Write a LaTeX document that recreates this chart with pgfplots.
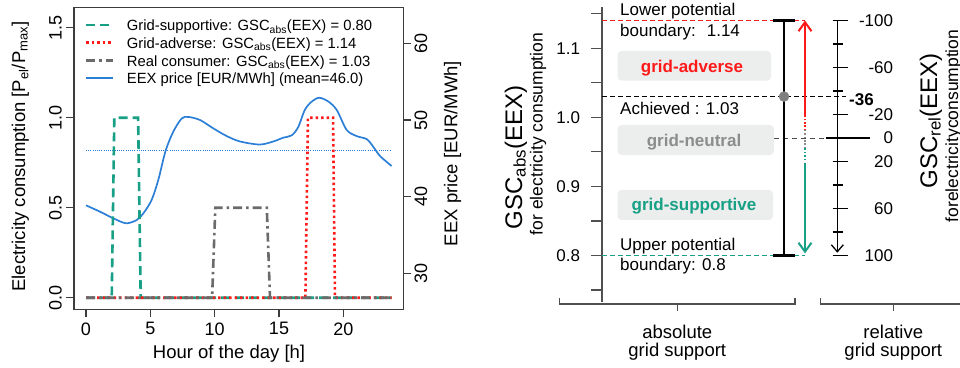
\documentclass[border=0pt]{standalone}
\usepackage{pgfplots}
\usepackage{pgfplotstable}
\pgfplotsset{compat=1.18}
\usepackage{fontspec}
\setmainfont{Liberation Sans}
\usetikzlibrary{arrows.meta}
\definecolor{cgreen}{HTML}{17A085}
\definecolor{cred}{HTML}{FF1A1A}
\definecolor{cgray}{HTML}{6B6B6B}
\definecolor{cblue}{HTML}{2C7FD6}
\definecolor{boxgray}{HTML}{ECEDED}
\definecolor{framec}{HTML}{3C3C3C}
\definecolor{axgray}{HTML}{505050}
\definecolor{neutral}{HTML}{8C8C8C}
\definecolor{dotgray}{HTML}{7F7F7F}
\newcommand{\fz}[1]{\fontsize{#1}{#1}\selectfont}

\pgfplotstableread{
h p
0 38.87
1.09 38.04
2.12 37.18
3.11 36.53
3.94 36.96
4.46 37.83
5.1 39.57
5.62 42.2
6.19 46.0
6.79 48.5
7.44 50.2
7.95 50.4
8.86 50.0
9.9 48.9
10.94 47.9
11.97 47.2
13.5 46.8
14.56 47.2
15.34 47.7
15.99 48.0
16.5 49.1
17.0 51.3
17.54 52.4
18.13 52.9
18.84 52.4
19.49 51.3
20.26 48.7
21.04 47.9
21.82 47.5
22.33 46.5
22.85 45.3
23.75 44.0
}\eextab

\pgfplotstableread{
h c
0 0
2.0 0
2.2 1
4.05 1
4.25 0
23.75 0
}\supptab

\pgfplotstableread{
h c
0 0
17.05 0
17.25 1
19.2 1
19.35 0
23.75 0
}\advtab

\pgfplotstableread{
h c
0 0
9.8 0
10.05 0.5
14.05 0.5
14.3 0
23.75 0
}\realtab

\begin{document}
\begin{tikzpicture}
\begin{scope}
\clip (0pt,0pt) rectangle (960pt,367pt);

% ---------- left panel: price axis (right side) ----------
\begin{axis}[
  at={(74pt,57.7pt)}, anchor=south west, scale only axis,
  width=329.3pt, height=302pt,
  xmin=-0.933, xmax=24.66, ymin=25.31, ymax=64.70,
  axis x line=none, axis y line*=right,
  axis line style={framec, line width=1.5pt, -},
  ytick={30,40,50,60}, yticklabels={30,40,50,60},
  tick align=outside, major tick length=8pt,
  ytick style={framec, line width=1.2pt},
  yticklabel style={rotate=90, anchor=north, font=\fz{18}, inner sep=3pt},
]
\addplot[cblue, line width=1pt, dash pattern=on 1pt off 1.2pt] coordinates {(0,46) (23.75,46)};
\addplot[cblue, line width=1.7pt, smooth] table[x=h,y=p]{\eextab};
\end{axis}

% ---------- left panel: consumption axis ----------
\begin{axis}[
  at={(74pt,57.7pt)}, anchor=south west, scale only axis,
  width=329.3pt, height=302pt,
  xmin=-0.933, xmax=24.66, ymin=-0.0644, ymax=1.6134,
  axis line style={framec, line width=1.5pt},
  tick pos=left, tick align=outside, major tick length=8pt,
  tick style={framec, line width=1.2pt},
  xtick={0,5,10,15,20}, xticklabels={0,5,10,15,20},
  ytick={0,0.5,1,1.5}, yticklabels={0.0,0.5,1.0,1.5},
  xticklabel style={font=\fz{18}, inner sep=5pt},
  yticklabel style={rotate=90, anchor=south, font=\fz{18}, inner sep=4pt},
]
\addplot[cgreen, line width=2.6pt, dash pattern=on 9pt off 5pt] table[x=h,y=c]{\supptab};
\addplot[cred, line width=2.6pt, dash pattern=on 2.5pt off 3pt] table[x=h,y=c]{\advtab};
\addplot[cgray, line width=2.6pt, dash pattern=on 9pt off 4pt on 2.5pt off 4pt] table[x=h,y=c]{\realtab};
\end{axis}

% legend (left panel)
\draw[cgreen, line width=2.6pt, dash pattern=on 9pt off 5pt] (86pt,342pt) -- (113.3pt,342pt);
\draw[cred, line width=2.6pt, dash pattern=on 2.5pt off 3pt] (86pt,324.3pt) -- (113.3pt,324.3pt);
\draw[cgray, line width=2.6pt, dash pattern=on 9pt off 4pt on 2.5pt off 4pt] (86pt,306.3pt) -- (113.3pt,306.3pt);
\draw[cblue, line width=1.7pt] (86pt,288.7pt) -- (113.3pt,288.7pt);
\begin{scope}[every node/.style={anchor=base west, inner sep=0pt, font=\fz{14.8}}]
\node at (126.7pt,336.3pt) {Grid-supportive: GSC\textsubscript{abs}(EEX) = 0.80};
\node at (126.7pt,318.6pt) {Grid-adverse: GSC\textsubscript{abs}(EEX) = 1.14};
\node at (126.7pt,300.6pt) {Real consumer: GSC\textsubscript{abs}(EEX) = 1.03};
\node at (126.7pt,283.0pt) {EEX price [EUR/MWh] (mean=46.0)};
\end{scope}

% axis titles (left panel)
\node[rotate=90, anchor=base, inner sep=0pt, font=\fz{18.5}] at (25pt,210.5pt) {Electricity consumption [P\textsubscript{el}/P\textsubscript{max}]};
\node[anchor=base, inner sep=0pt, font=\fz{18.5}] at (229pt,8.7pt) {Hour of the day [h]};
\node[rotate=90, anchor=base, inner sep=0pt, font=\fz{18.5}] at (457.3pt,213.5pt) {EEX price [EUR/MWh]};

% ---------- right panel ----------
\begin{axis}[
  at={(602pt,65.2pt)}, anchor=south west, scale only axis,
  width=358pt, height=295.1pt,
  xmin=602, xmax=960, ymin=0.733, ymax=1.160, clip=false,
  axis x line=none, axis y line*=left,
  axis line style={axgray, line width=1.3pt, -},
  ytick={0.8,0.9,1.0,1.1}, yticklabels={0.8,0.9,1.0,1.1},
  minor ytick={0.75,0.85,0.95,1.05,1.15},
  tick align=outside, major tick length=10.7pt, minor tick length=10.7pt,
  every tick/.style={axgray, line width=1.2pt},
  yticklabel style={anchor=east, inner sep=0pt, xshift=-11pt, font=\fz{17}},
]
% grey boxes
\fill[boxgray, rounded corners=4pt] (617.5,1.0530) rectangle (771,1.0959);
\fill[boxgray, rounded corners=4pt] (617.5,0.9454) rectangle (774,0.9889);
\fill[boxgray, rounded corners=4pt] (617.5,0.8514) rectangle (773,0.8948);
% boundary lines
\addplot[cred, line width=0.9pt, dash pattern=on 5pt off 3pt] coordinates {(602,1.14) (805,1.14)};
\addplot[cgreen, line width=0.9pt, dash pattern=on 5pt off 3pt] coordinates {(602,0.80) (805,0.80)};
\addplot[black, line width=0.9pt, dash pattern=on 5pt off 3pt] coordinates {(602,1.03) (846,1.03)};
\addplot[black!70, line width=0.9pt, dash pattern=on 5pt off 4pt] coordinates {(774,0.97) (826,0.97)};
% black range bar
\addplot[black, line width=2.4pt] coordinates {(784,0.80) (784,1.14)};
\addplot[black, line width=3pt] coordinates {(773,1.14) (795,1.14)};
\addplot[black, line width=3pt] coordinates {(773,0.80) (795,0.80)};
\addplot[only marks, mark=*, mark size=5pt, color=dotgray] coordinates {(784,1.03)};
% arrows
\addplot[cred, line width=2pt, -{Straight Barb[length=9pt,width=13pt]}] coordinates {(805,1.0) (805,1.14)};
\addplot[cred, line width=1.8pt, dash pattern=on 1.6pt off 1.8pt] coordinates {(805,0.998) (805,0.982)};
\addplot[neutral, line width=1.8pt, dash pattern=on 1.6pt off 1.8pt] coordinates {(805,0.982) (805,0.955)};
\addplot[cgreen, line width=1.8pt, dash pattern=on 1.6pt off 1.8pt] coordinates {(805,0.955) (805,0.936)};
\addplot[cgreen, line width=2pt, -{Straight Barb[length=9pt,width=13pt]}] coordinates {(805,0.934) (805,0.803)};
% relative axis
\addplot[black, line width=1.3pt, -{Straight Barb[length=7pt,width=12pt]}] coordinates {(837.3,1.14) (837.3,0.804)};
\addplot[black, line width=1.2pt, unbounded coords=jump] coordinates {
 (832.7,1.14) (848.3,1.14) (nan,nan)
 (832.7,1.106) (843.3,1.106) (nan,nan)
 (832.7,1.072) (848.3,1.072) (nan,nan)
 (832.7,1.038) (843.3,1.038) (nan,nan)
 (832.7,1.004) (848.3,1.004) (nan,nan)
 (826,0.97) (870,0.97) (nan,nan)
 (832.7,0.936) (848.3,0.936) (nan,nan)
 (832.7,0.902) (843.3,0.902) (nan,nan)
 (832.7,0.868) (848.3,0.868) (nan,nan)
 (832.7,0.834) (843.3,0.834) (nan,nan)
 (832.7,0.80) (848.3,0.80)};
\begin{scope}[every node/.style={anchor=east, inner sep=0pt, font=\fz{17}}]
\node at (893.3,1.14) {-100};
\node at (893.3,1.072) {-60};
\node at (893.3,1.004) {-20};
\node at (893.3,0.97) {0};
\node at (893.3,0.936) {20};
\node at (893.3,0.868) {60};
\node at (893.3,0.80) {100};
\end{scope}
\node[anchor=west, inner sep=0pt, font=\bfseries\fz{17}] at (849,1.025) {-36};
% texts
\begin{scope}[every node/.style={anchor=west, inner sep=0pt, font=\fz{17}}]
\node at (620,1.1538) {Lower potential};
\node at (620,1.1239) {boundary:~ 1.14};
\node at (620,1.0130) {Achieved : 1.03};
\node at (620,0.8142) {Upper potential};
\node at (620,0.7848) {boundary: 0.8};
\end{scope}
\node[font=\bfseries\fz{17}, text=cred, inner sep=0pt] at (692,1.0718) {grid-adverse};
\node[font=\bfseries\fz{17}, text=neutral, inner sep=0pt] at (694,0.9647) {grid-neutral};
\node[font=\bfseries\fz{17}, text=cgreen, inner sep=0pt] at (694,0.8716) {grid-supportive};
% brackets
\draw[axgray, line width=1.2pt] (559.3,0.7379) -- (559.3,0.7298) -- (795,0.7298) -- (795,0.7379);
\draw[axgray, line width=1.2pt] (677.3,0.7298) -- (677.3,0.7197);
\draw[axgray, line width=1.2pt] (820.7,0.7379) -- (820.7,0.7298) -- (966,0.7298) -- (966,0.7379);
\draw[axgray, line width=1.2pt] (893.3,0.7298) -- (893.3,0.7197);
\begin{scope}[every node/.style={inner sep=0pt, font=\fz{18.5}}]
\node at (677.3,0.6897) {absolute};
\node at (677.3,0.6608) {grid support};
\node at (893.3,0.6897) {relative};
\node at (893.3,0.6608) {grid support};
\end{scope}
\end{axis}

% right panel titles
\node[rotate=90, anchor=base, inner sep=0pt, font=\fz{24}] at (522pt,209.5pt) {GSC\textsubscript{abs}(EEX)};
\node[rotate=90, anchor=base, inner sep=0pt, font=\fz{17.5}] at (542.5pt,233pt) {for electricity consumption};
\node[rotate=90, anchor=base, inner sep=0pt, font=\fz{24}] at (937pt,246pt) {GSC\textsubscript{rel}(EEX)};
\node[rotate=90, anchor=base, inner sep=0pt, font=\fz{17.5}] at (958pt,241pt) {forelectricityconsumption};
\end{scope}
\pgfresetboundingbox
\useasboundingbox (0pt,0pt) rectangle (960pt,367pt);
\end{tikzpicture}
\end{document}
